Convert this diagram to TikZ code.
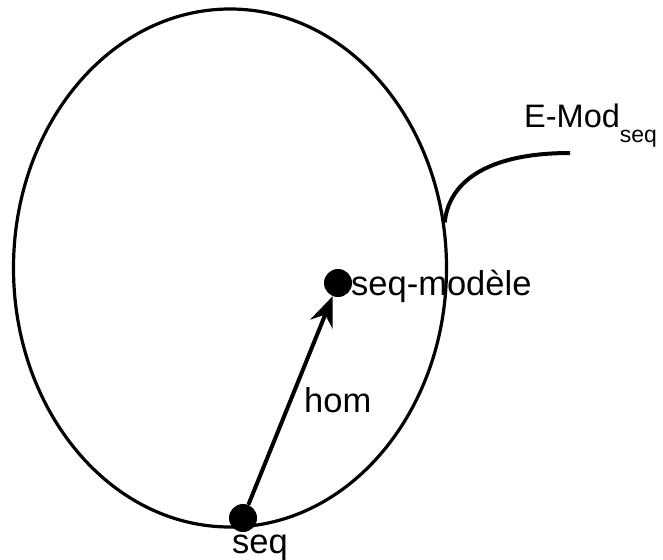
\documentclass[tikz,border=0pt]{standalone}
\usepackage{fontspec}
\setmainfont{Liberation Sans}
\usetikzlibrary{shapes.geometric,arrows.meta}
\begin{document}
\begin{tikzpicture}[x=1pt,y=-1pt,
  lbl/.style={inner sep=0pt, font=\fontsize{34.5}{40}\selectfont},
  dotnode/.style={circle, fill=black, minimum size=28pt, inner sep=0pt},
  boundary/.style={draw=black, ellipse, line width=3.2pt, inner sep=0pt, minimum width=433pt, minimum height=518pt}]
\useasboundingbox (0,0) rectangle (663,559);
\node[boundary] (ell) at (230,268) {};
\node[dotnode] (m) at (338,283) {};
\node[dotnode] (s) at (243,518) {};
\node[lbl, anchor=base west] (ml) at (351,295) {seq-modèle};
\node[lbl, anchor=base west] (sl) at (232,553) {seq};
\node[lbl, anchor=base west] (hl) at (304,412) {hom};
\node[lbl, anchor=base west, font=\fontsize{32.5}{40}\selectfont] (el) at (524,127) {E-Mod\raisebox{-16pt}{\fontsize{23}{28}\selectfont seq}};
\coordinate (cend) at (570,153);
\draw[line width=4pt, -{Stealth[length=30pt, width=24pt, inset=10pt]}] (s) -- (m);
\draw[line width=4pt] (ell.12) .. controls (449,180) and (490,153) .. (cend);
\end{tikzpicture}
\end{document}
